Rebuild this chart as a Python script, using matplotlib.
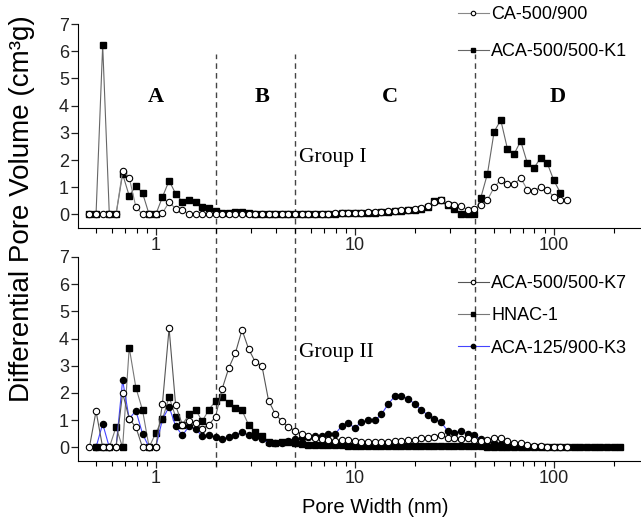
import matplotlib
matplotlib.use('Agg')
import matplotlib.pyplot as plt
from matplotlib.ticker import FixedLocator, LogLocator, NullFormatter, FuncFormatter

# pore width grid (nm)
pore_width = [0.462, 0.499, 0.539, 0.582, 0.629, 0.679, 0.733, 0.792, 0.855, 0.923,
              0.997, 1.077, 1.163, 1.255, 1.356, 1.464, 1.581, 1.707, 1.844, 1.991,
              2.150, 2.322, 2.507, 2.707, 2.924, 3.157, 3.409, 3.681, 3.975, 4.293,
              4.636, 5.006, 5.406, 5.837, 6.303, 6.808, 7.350, 7.937, 8.571, 9.256,
              9.995, 10.79, 11.66, 12.59, 13.59, 14.68, 15.85, 17.12, 18.48, 19.96,
              21.55, 23.28, 25.13, 27.14, 29.31, 31.65, 34.17, 36.90, 39.85, 43.03,
              46.47, 50.18, 54.19, 58.51, 63.19, 68.24, 73.69, 79.57, 85.93, 92.79,
              100.2, 108.2, 116.9, 126.2, 136.3, 147.2, 158.9, 171.6, 185.3, 200.1,
              216.1]

# Group I
ca_500_900 = [0, 0, 0, 0, 0, 1.60, 1.35, 0.27, 0, 0,
              0, 0.05, 0.45, 0.21, 0.17, 0, 0, 0, 0, 0,
              0, 0, 0, 0, 0, 0, 0, 0, 0, 0,
              0, 0.01, 0.01, 0.02, 0.02, 0.03, 0.03, 0.04, 0.05, 0.05,
              0.06, 0.07, 0.08, 0.09, 0.10, 0.12, 0.14, 0.16, 0.18, 0.20,
              0.23, 0.30, 0.45, 0.52, 0.37, 0.33, 0.32, 0.17, 0.20, 0.34,
              0.54, 0.99, 1.28, 1.11, 1.11, 1.34, 0.91, 0.86, 1.01, 0.91,
              0.64, 0.54, 0.54]
aca_500_500_k1 = [0, 0, 6.22, 0, 0, 1.48, 0.68, 1.05, 0.79, 0,
                  0, 0.64, 1.24, 0.76, 0.47, 0.54, 0.44, 0.26, 0.23, 0.12,
                  0.07, 0.05, 0.09, 0.10, 0.04, 0.02, 0.01, 0.01, 0.01, 0.01,
                  0.01, 0.02, 0.02, 0.02, 0.02, 0.02, 0.02, 0.03, 0.04, 0.04,
                  0.05, 0.05, 0.06, 0.07, 0.08, 0.10, 0.12, 0.14, 0.16, 0.18,
                  0.20, 0.28, 0.49, 0.54, 0.35, 0.20, 0, 0, 0, 0.62,
                  1.50, 3.04, 3.47, 2.42, 2.21, 2.70, 1.89, 1.70, 2.08, 1.89,
                  1.25, 0.79]

# Group II
aca_500_500_k7 = [0, 1.33, 0, 0, 0, 2.00, 1.05, 0.74, 0, 0,
                  0, 1.61, 4.38, 1.54, 0.84, 0.96, 0.90, 0.68, 0.84, 1.12,
                  2.15, 2.92, 3.47, 4.32, 3.61, 3.14, 3.00, 1.72, 1.23, 0.96,
                  0.74, 0.62, 0.48, 0.40, 0.35, 0.30, 0.27, 0.25, 0.26, 0.26,
                  0.22, 0.20, 0.20, 0.20, 0.21, 0.21, 0.23, 0.23, 0.26, 0.26,
                  0.33, 0.33, 0.39, 0.45, 0.35, 0.33, 0.30, 0.33, 0.26, 0.23,
                  0.26, 0.35, 0.33, 0.23, 0.17, 0.17, 0.07, 0.05, 0.04, 0.03,
                  0.03, 0.02, 0.02]
# these two start at the second grid point
hnac_1 = [0, 0, 0, 0.74, 0, 3.67, 2.19, 1.37, 0,
          0.54, 1.03, 1.86, 1.12, 0.84, 1.21, 1.39, 0.96, 1.39, 1.70,
          1.86, 1.64, 1.45, 1.36, 0.82, 0.58, 0.40, 0.18, 0.15, 0.18,
          0.20, 0.15, 0.12, 0.10, 0.10, 0.08, 0.08, 0.07, 0.07, 0.06,
          0.06, 0.05, 0.05, 0.05, 0.05, 0.05, 0.05, 0.05, 0.05, 0.05,
          0.05, 0.05, 0.04, 0.04, 0.04, 0.04, 0.04, 0.04, 0.04, 0.04,
          0.03, 0.03, 0.03, 0.03, 0.03, 0.03, 0.02, 0.02, 0.02, 0.02,
          0.02, 0.02, 0.02, 0.02, 0.02, 0.02, 0.02, 0.02, 0.02, 0.02,
          0.02]
aca_125_900_k3 = [0, 0.87, 0, 0, 2.47, 1.05, 1.35, 0.50, 0, 0,
                  1.03, 1.49, 0.78, 0.44, 0.77, 0.68, 0.41, 0.45, 0.38, 0.31,
                  0.39, 0.44, 0.56, 0.44, 0.39, 0.29, 0.17, 0.15, 0.17, 0.23,
                  0.29, 0.35, 0.39, 0.41, 0.41, 0.48, 0.48, 0.78, 0.88, 0.72,
                  0.93, 0.99, 0.99, 1.21, 1.58, 1.88, 1.90, 1.78, 1.61, 1.39,
                  1.18, 1.05, 0.93, 0.60, 0.54, 0.60, 0.50, 0.45, 0.30, 0.23,
                  0.17, 0.13, 0.07, 0.05]

region_bounds = [2, 5, 40]
region_labels = ['A', 'B', 'C', 'D']
region_label_x = [1.0, 3.43, 15.1, 105]

sans = 'Liberation Sans'
serif = 'Liberation Serif'

fig = plt.figure(figsize=(6.41, 5.22), dpi=100)
ax_top = fig.add_axes([0.1217, 0.5632, 0.8783, 0.3908])
ax_bot = fig.add_axes([0.1217, 0.1169, 0.8783, 0.3908])

open_kw = dict(marker='o', ms=4.6, mfc='white', mec='black', mew=0.8, lw=0.8)
sq_kw = dict(marker='s', ms=4.0, mfc='black', mec='black', lw=0.8)
dot_kw = dict(marker='o', ms=4.4, mfc='black', mec='black', lw=0.8)

# top panel
l_k1, = ax_top.plot(pore_width[:len(aca_500_500_k1)], aca_500_500_k1, color='#666666', **sq_kw)
l_ca, = ax_top.plot(pore_width[:len(ca_500_900)], ca_500_900, color='#888888', **open_kw)

# bottom panel
l_hn, = ax_bot.plot(pore_width[1:1 + len(hnac_1)], hnac_1, color='#777777', **sq_kw)
l_k3, = ax_bot.plot(pore_width[1:1 + len(aca_125_900_k3)], aca_125_900_k3, color='#4444ff', **dot_kw)
l_k7, = ax_bot.plot(pore_width[:len(aca_500_500_k7)], aca_500_500_k7, color='#555555', **open_kw)

for ax in (ax_top, ax_bot):
    ax.set_xscale('log')
    ax.set_xlim(0.405, 275)
    ax.set_ylim(-0.5, 7)
    ax.spines['top'].set_visible(False)
    ax.spines['right'].set_visible(False)
    ax.yaxis.set_major_locator(FixedLocator(range(8)))
    ax.xaxis.set_major_locator(FixedLocator([1, 10, 100]))
    ax.xaxis.set_minor_locator(LogLocator(base=10, subs=range(2, 10), numticks=20))
    ax.xaxis.set_major_formatter(FuncFormatter(lambda v, _: f'{v:g}'))
    ax.xaxis.set_minor_formatter(NullFormatter())
    ax.tick_params(which='major', direction='out', length=5, width=0.9, pad=1.5,
                   labelsize=13, colors='#222222')
    ax.tick_params(which='minor', direction='out', length=3.5, width=0.8)
    for lab in ax.get_xticklabels() + ax.get_yticklabels():
        lab.set_family(sans)
    ax.set_facecolor('none')

# dashed region boundaries, running through both panels
for xb in region_bounds:
    ax_top.axvline(xb, ymin=-1.17, ymax=0.853, color='#444444', lw=1.0,
                   ls=(0, (4, 3)), clip_on=False, zorder=0)

for lab, xl in zip(region_labels, region_label_x):
    ax_top.text(xl, 4.32, lab, ha='center', va='center', family=serif,
                fontweight='bold', fontsize=16)
ax_top.text(5.25, 2.1, 'Group I', ha='left', va='center', family=serif, fontsize=15.5)
ax_bot.text(5.25, 3.5, 'Group II', ha='left', va='center', family=serif, fontsize=15.5)

leg_kw = dict(frameon=False, handlelength=1.7, handletextpad=0.15,
              borderpad=0, borderaxespad=0, markerscale=0.7, loc='upper left',
              bbox_transform=fig.transFigure, prop={'family': sans, 'size': 13})
fig.legend([l_ca, l_k1], ['CA-500/900', 'ACA-500/500-K1'],
           bbox_to_anchor=(458 / 641, 1 - 6 / 522), labelspacing=1.1, **leg_kw)
fig.legend([l_k7, l_hn, l_k3], ['ACA-500/500-K7', 'HNAC-1', 'ACA-125/900-K3'],
           bbox_to_anchor=(458 / 641, 1 - 275 / 522), labelspacing=0.85, **leg_kw)

fig.text(0.034, 0.60, 'Differential Pore Volume (cm³g)', rotation=90,
         ha='center', va='center', family=sans, fontsize=20)
fig.text(0.585, 0.027, 'Pore Width (nm)', ha='center', va='center',
         family=sans, fontsize=14.5)

fig.savefig('out.png', dpi=100)
